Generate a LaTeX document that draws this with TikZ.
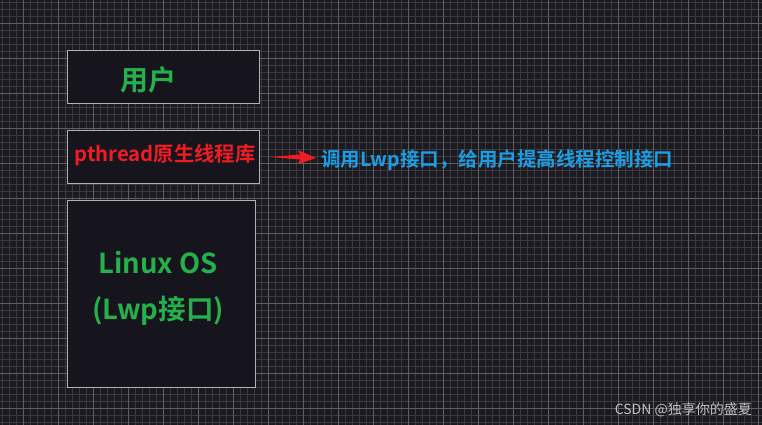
\documentclass[tikz,border=0pt]{standalone}
\usepackage{fontspec}
\setmainfont{Noto Sans CJK SC}
\newfontfamily\cjkb{Noto Sans CJK SC Bold}
\begin{document}
\begin{tikzpicture}[x=1pt,y=-1pt,
  box/.style={draw=white!70!black,line width=1pt,fill=bgbox},
  lbl/.style={inner sep=0pt}]
\definecolor{bg}{HTML}{1B1A20}
\definecolor{bgbox}{HTML}{16141C}
\definecolor{gr}{HTML}{24B04A}
\definecolor{rd}{HTML}{F01C24}
\definecolor{bl}{HTML}{1A9EE6}
\fill[bg] (0,0) rectangle (762,425);
\useasboundingbox (0,0) rectangle (762,425);
\foreach \x in {2,9,...,762} \draw[white!14!bg,line width=0.4pt] (\x,0) -- (\x,425);
\foreach \y in {2,9,...,425} \draw[white!14!bg,line width=0.4pt] (0,\y) -- (762,\y);
\foreach \x in {23,58,...,762} \draw[white!30!bg,line width=0.6pt] (\x,0) -- (\x,425);
\foreach \y in {23,58,...,425} \draw[white!30!bg,line width=0.6pt] (0,\y) -- (762,\y);
\node[box,minimum width=192pt,minimum height=53pt] (u) at (163,77.5) {};
\node[lbl,text=gr,font=\cjkb\fontsize{28}{30}\selectfont] (ut) at (148,80) {用户};
\node[box,minimum width=192pt,minimum height=53pt] (p) at (163,156.5) {};
\node[lbl,text=rd,font=\cjkb\fontsize{20.3}{22}\selectfont] (pt) at (165,155) {pthread原生线程库};
\node[box,minimum width=188pt,minimum height=187pt] (l) at (161,293.5) {};
\node[lbl,text=gr,font=\cjkb\fontsize{27.5}{46}\selectfont,align=center] (lt) at (158,288) {Linux OS\\(Lwp接口)};
\node[lbl,text=bl,anchor=west,font=\cjkb\fontsize{19.5}{22}\selectfont] (bt) at (321,160) {调用Lwp接口，给用户提高线程控制接口};
\coordinate (a0) at (270,157);
\fill[rd] (a0) -- (300,154.5) -- (298,150) -- (316,158) -- (298,164) -- (300,159.5) -- cycle;
\node[anchor=east,text=white!75!black,font=\fontsize{14}{16}\selectfont,inner sep=0pt] (wm) at (752,410) {CSDN @独享你的盛夏};
\end{tikzpicture}
\end{document}
